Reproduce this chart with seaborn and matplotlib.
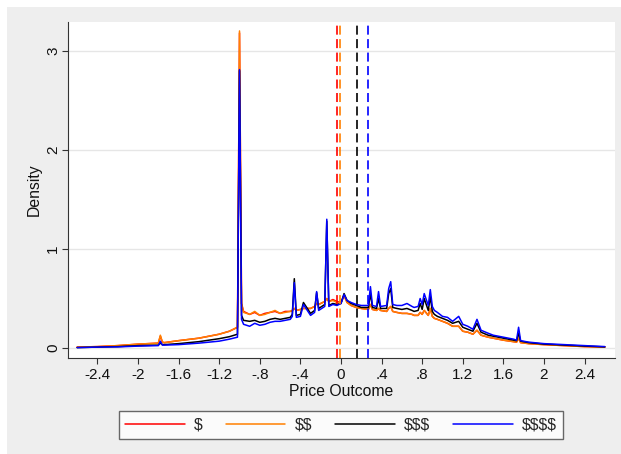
import numpy as np
import pandas as pd
import matplotlib
matplotlib.use("Agg")
import matplotlib.pyplot as plt
import seaborn as sns
from matplotlib.patches import Rectangle

# ---------------- data ----------------
series_names = ["$", "$$", "$$$", "$$$$"]
series_colors = ["#ff0000", "#ff8000", "#000000", "#0000ff"]
series_means = [-0.036, -0.007, 0.162, 0.27]

price = [-2.6, -2.4, -2.2, -2.0, -1.8, -1.78, -1.76, -1.74, -1.6, -1.4, -1.2, -1.1,
         -1.02, -1.0, -0.98, -0.96, -0.9, -0.85, -0.8, -0.75, -0.7, -0.65, -0.6, -0.55,
         -0.5, -0.48, -0.46, -0.44, -0.4, -0.37, -0.3, -0.26, -0.24, -0.22, -0.16, -0.14,
         -0.12, -0.08, -0.04, 0.0, 0.03, 0.06, 0.1, 0.15, 0.2, 0.27, 0.29, 0.31,
         0.35, 0.37, 0.39, 0.45, 0.47, 0.49, 0.51, 0.55, 0.6, 0.65, 0.7, 0.72,
         0.76, 0.78, 0.8, 0.82, 0.86, 0.88, 0.9, 0.92, 0.95, 1.0, 1.05, 1.1,
         1.16, 1.2, 1.25, 1.3, 1.34, 1.38, 1.45, 1.5, 1.55, 1.6, 1.7, 1.73,
         1.75, 1.77, 1.85, 2.0, 2.2, 2.4, 2.6]

dens_1 = [0.01, 0.015, 0.025, 0.04, 0.05, 0.12, 0.06, 0.055, 0.075, 0.10, 0.14, 0.17,
          0.21, 3.18, 0.45, 0.37, 0.34, 0.36, 0.33, 0.35, 0.36, 0.37, 0.35, 0.37,
          0.37, 0.38, 0.40, 0.38, 0.39, 0.40, 0.40, 0.42, 0.45, 0.44, 0.47, 0.50,
          0.47, 0.49, 0.47, 0.46, 0.53, 0.46, 0.43, 0.41, 0.40, 0.39, 0.44, 0.39,
          0.38, 0.40, 0.38, 0.37, 0.40, 0.42, 0.37, 0.36, 0.35, 0.35, 0.34, 0.33,
          0.33, 0.36, 0.34, 0.38, 0.33, 0.40, 0.32, 0.30, 0.29, 0.27, 0.25, 0.22,
          0.22, 0.17, 0.16, 0.14, 0.18, 0.13, 0.11, 0.10, 0.09, 0.08, 0.065, 0.06,
          0.10, 0.055, 0.045, 0.035, 0.025, 0.015, 0.01]

dens_2 = [0.01, 0.015, 0.025, 0.04, 0.05, 0.13, 0.06, 0.055, 0.075, 0.10, 0.14, 0.17,
          0.21, 3.20, 0.45, 0.36, 0.34, 0.37, 0.33, 0.34, 0.36, 0.38, 0.35, 0.36,
          0.37, 0.38, 0.40, 0.38, 0.39, 0.40, 0.40, 0.42, 0.45, 0.44, 0.47, 0.50,
          0.47, 0.48, 0.46, 0.46, 0.53, 0.46, 0.43, 0.41, 0.40, 0.39, 0.44, 0.39,
          0.38, 0.40, 0.38, 0.37, 0.40, 0.42, 0.37, 0.36, 0.35, 0.35, 0.34, 0.33,
          0.33, 0.36, 0.34, 0.38, 0.33, 0.40, 0.32, 0.30, 0.29, 0.27, 0.25, 0.22,
          0.22, 0.17, 0.16, 0.14, 0.18, 0.13, 0.11, 0.10, 0.09, 0.08, 0.065, 0.06,
          0.10, 0.055, 0.045, 0.035, 0.025, 0.015, 0.01]

dens_3 = [0.005, 0.01, 0.015, 0.025, 0.03, 0.05, 0.035, 0.035, 0.045, 0.065, 0.095, 0.115,
          0.14, 2.80, 0.33, 0.28, 0.27, 0.28, 0.26, 0.27, 0.29, 0.30, 0.29, 0.30,
          0.31, 0.34, 0.70, 0.33, 0.34, 0.46, 0.35, 0.38, 0.56, 0.40, 0.44, 1.28,
          0.43, 0.45, 0.44, 0.45, 0.55, 0.48, 0.45, 0.43, 0.41, 0.41, 0.55, 0.41,
          0.40, 0.50, 0.40, 0.40, 0.55, 0.60, 0.41, 0.40, 0.39, 0.40, 0.38, 0.37,
          0.38, 0.45, 0.39, 0.50, 0.38, 0.52, 0.37, 0.34, 0.32, 0.30, 0.28, 0.25,
          0.27, 0.21, 0.19, 0.17, 0.25, 0.16, 0.13, 0.12, 0.11, 0.10, 0.08, 0.075,
          0.15, 0.07, 0.055, 0.04, 0.03, 0.02, 0.012]

dens_4 = [0.005, 0.01, 0.012, 0.02, 0.025, 0.07, 0.03, 0.03, 0.035, 0.05, 0.07, 0.09,
          0.11, 2.81, 0.29, 0.24, 0.22, 0.25, 0.23, 0.24, 0.26, 0.27, 0.27, 0.28,
          0.29, 0.32, 0.66, 0.31, 0.32, 0.44, 0.33, 0.36, 0.57, 0.38, 0.42, 1.30,
          0.42, 0.44, 0.43, 0.45, 0.54, 0.48, 0.46, 0.44, 0.43, 0.43, 0.62, 0.43,
          0.42, 0.57, 0.42, 0.43, 0.60, 0.67, 0.44, 0.43, 0.43, 0.45, 0.42, 0.41,
          0.42, 0.50, 0.44, 0.55, 0.43, 0.59, 0.42, 0.38, 0.36, 0.32, 0.31, 0.27,
          0.32, 0.24, 0.22, 0.19, 0.29, 0.18, 0.15, 0.13, 0.12, 0.11, 0.09, 0.08,
          0.21, 0.075, 0.06, 0.045, 0.035, 0.025, 0.015]

x_ticks = [-2.4, -2.0, -1.6, -1.2, -0.8, -0.4, 0.0, 0.4, 0.8, 1.2, 1.6, 2.0, 2.4]
x_tick_labels = ["-2.4", "-2", "-1.6", "-1.2", "-.8", "-.4", "0", ".4", ".8", "1.2", "1.6", "2", "2.4"]
y_ticks = [0, 1, 2, 3]
y_tick_labels = ["0", "1", "2", "3"]

# ---------------- figure ----------------
sns.set_theme(style="white")
plt.rcParams["font.family"] = ["Liberation Sans", "DejaVu Sans"]
plt.rcParams["text.parse_math"] = False
plt.rcParams["lines.scale_dashes"] = False

df = pd.DataFrame({
    "price": price * 4,
    "density": dens_1 + dens_2 + dens_3 + dens_4,
    "series": sum([[n] * len(price) for n in series_names], []),
})

W, H = 621, 454
fig = plt.figure(figsize=(W / 100, H / 100), dpi=100, facecolor="white")
fig.patches.append(Rectangle((7 / W, 0), 1, 1 - 7 / H, transform=fig.transFigure,
                             facecolor="#eeeeee", edgecolor="none", zorder=-10))
ax = fig.add_axes([68 / W, 1 - 358 / H, (615 - 68) / W, (358 - 22) / H])
ax.set_facecolor("white")

sns.lineplot(data=df, x="price", y="density", hue="series", hue_order=series_names,
             palette=dict(zip(series_names, series_colors)), estimator=None,
             linewidth=1.1, ax=ax)

for m, c in zip(series_means, series_colors):
    ax.axvline(m, color=c, lw=1.2, linestyle=(0, (6.5, 3.2)))

ax.set_xlim(-2.69, 2.70)
ax.set_ylim(-0.10, 3.29)
ax.set_xticks(x_ticks)
ax.set_xticklabels(x_tick_labels)
ax.set_yticks(y_ticks)
ax.set_yticklabels(y_tick_labels, rotation=90, va="center")
ax.tick_params(axis="both", which="major", labelsize=11, length=4, width=0.8,
               color="#333333", labelcolor="#111111", direction="out", pad=3)
ax.tick_params(axis="y", pad=1.5)
ax.tick_params(axis="x", bottom=True)
ax.tick_params(axis="y", left=True)
ax.yaxis.grid(True, color="#e6e6e6", lw=1.0)
ax.xaxis.grid(False)
ax.set_axisbelow(True)
for s in ["top", "right"]:
    ax.spines[s].set_visible(False)
for s in ["left", "bottom"]:
    ax.spines[s].set_color("#333333")
    ax.spines[s].set_linewidth(0.8)

ax.set_xlabel("Price Outcome", fontsize=11.3, labelpad=2, color="#111111")
ax.set_ylabel("Density", fontsize=11.3, labelpad=3, color="#111111")

handles, labels = ax.get_legend_handles_labels()
ax.get_legend().remove()
leg = fig.legend(handles, labels, loc="center", bbox_to_anchor=(341 / W, 1 - 425 / H),
                 ncol=4, fontsize=11.3, handlelength=3.8, handletextpad=0.6,
                 columnspacing=1.45, borderpad=0.4, fancybox=False, frameon=True)
leg.get_frame().set_edgecolor("#444444")
leg.get_frame().set_linewidth(1.0)
leg.get_frame().set_facecolor("white")
for line in leg.get_lines():
    line.set_linewidth(1.1)

fig.savefig("out.png", dpi=100, facecolor=fig.get_facecolor())
